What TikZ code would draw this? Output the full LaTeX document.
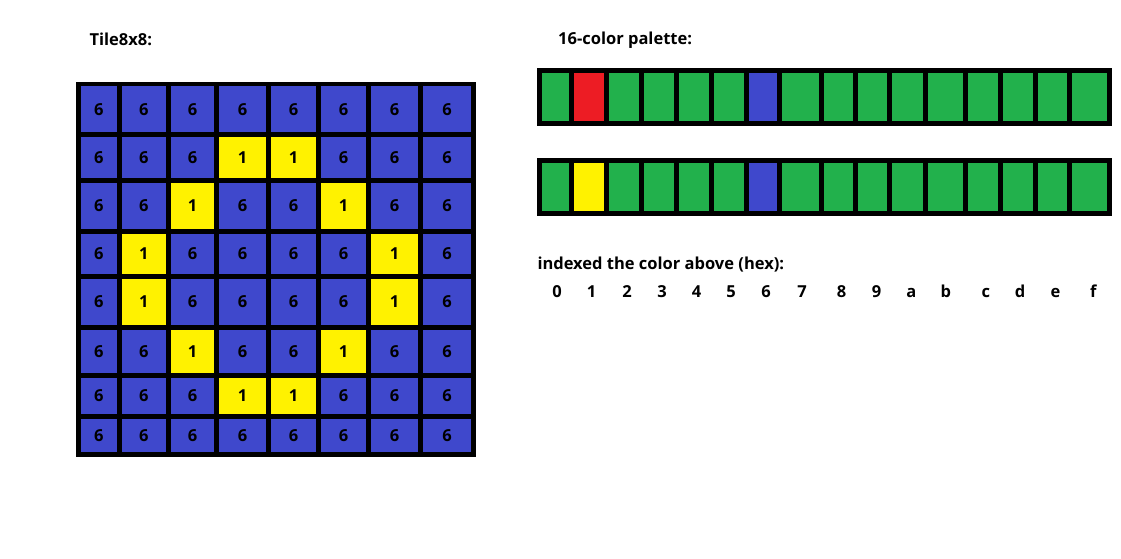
\documentclass[tikz,border=0pt]{standalone}
\usepackage{fontspec}
\setmainfont{Open Sans}
\usepackage{tikz}

\definecolor{tileblue}{HTML}{3F48CC}
\definecolor{tileyellow}{HTML}{FFF200}
\definecolor{palgreen}{HTML}{22B14C}
\definecolor{palred}{HTML}{ED1C24}

\begin{document}
\begin{tikzpicture}[
    x=1pt, y=-1pt,
    every node/.style={inner sep=0pt, font=\fontsize{16.5}{20}\selectfont\bfseries},
    title/.style={anchor=base west},
    digit/.style={anchor=center},
    hexlabel/.style={anchor=base},
    frame/.style={draw=black, line width=4.7pt, line cap=rect}
]
\useasboundingbox (0,0) rectangle (1121,559);
\def\gx{{78.3,119.3,168.3,216.7,268.7,318.3,368.7,420.5,473.5}}
\def\gy{{84,134.3,180.5,231.7,276.3,327.3,375.5,416.3,454.7}}
\def\px{{539.7,571.7,606.3,641.7,676.3,711.7,746.3,779.3,821.3,855.3,889.3,925.3,965.3,1000.3,1035.7,1069.7,1109.2}}

\node[title] (tiletitle) at (89.3,45.7) {Tile8x8:};
\node[title] (paltitle) at (558,44.3) {16-color palette:};
\node[title] (idxtitle) at (537.3,269.3) {indexed the color above (hex):};

% tile cells
\foreach \row [count=\r from 0] in {{6,6,6,6,6,6,6,6},{6,6,6,1,1,6,6,6},{6,6,1,6,6,1,6,6},{6,1,6,6,6,6,1,6},
                                    {6,1,6,6,6,6,1,6},{6,6,1,6,6,1,6,6},{6,6,6,1,1,6,6,6},{6,6,6,6,6,6,6,6}} {
  \foreach \v [count=\c from 0] in \row {
    \pgfmathsetmacro\xa{\gx[\c]}
    \pgfmathsetmacro\xb{\gx[\c+1]}
    \pgfmathsetmacro\ya{\gy[\r]}
    \pgfmathsetmacro\yb{\gy[\r+1]}
    \ifnum\v=1 \def\cellcol{tileyellow}\else \def\cellcol{tileblue}\fi
    \fill[\cellcol] (\xa,\ya) rectangle (\xb,\yb);
    \node[digit] (t-\r-\c) at ({(\xa+\xb)/2},{(\ya+\yb)/2}) {\v};
  }
}
\foreach \i in {0,...,8} {
  \pgfmathsetmacro\xa{\gx[\i]}
  \pgfmathsetmacro\ya{\gy[\i]}
  \draw[frame] (\xa,84) -- (\xa,454.7);
  \draw[frame] (78.3,\ya) -- (473.5,\ya);
}

% palettes
\foreach \top/\bot/\one [count=\p] in {70.8/123.3/palred, 160.7/213.3/tileyellow} {
  \foreach \k in {0,...,15} {
    \pgfmathsetmacro\xa{\px[\k]}
    \pgfmathsetmacro\xb{\px[\k+1]}
    \ifnum\k=1 \def\cellcol{\one}\else\ifnum\k=6 \def\cellcol{tileblue}\else \def\cellcol{palgreen}\fi\fi
    \fill[\cellcol] (\xa,\top) rectangle (\xb,\bot);
  }
  \foreach \k in {0,...,16} {
    \pgfmathsetmacro\xa{\px[\k]}
    \draw[frame] (\xa,\top) -- (\xa,\bot);
  }
  \draw[frame] (539.7,\top) -- (1109.2,\top);
  \draw[frame] (539.7,\bot) -- (1109.2,\bot);
}

% hex indices
\foreach \h/\x in {0/557,1/591.7,2/627,3/662,4/696.5,5/731,6/766,7/802,8/841.6,9/876.6,a/911.3,b/945.9,c/985.8,d/1020,e/1055.4,f/1093.4} {
  \node[hexlabel] (h-\h) at (\x,297.3) {\h};
}
\end{tikzpicture}
\end{document}
